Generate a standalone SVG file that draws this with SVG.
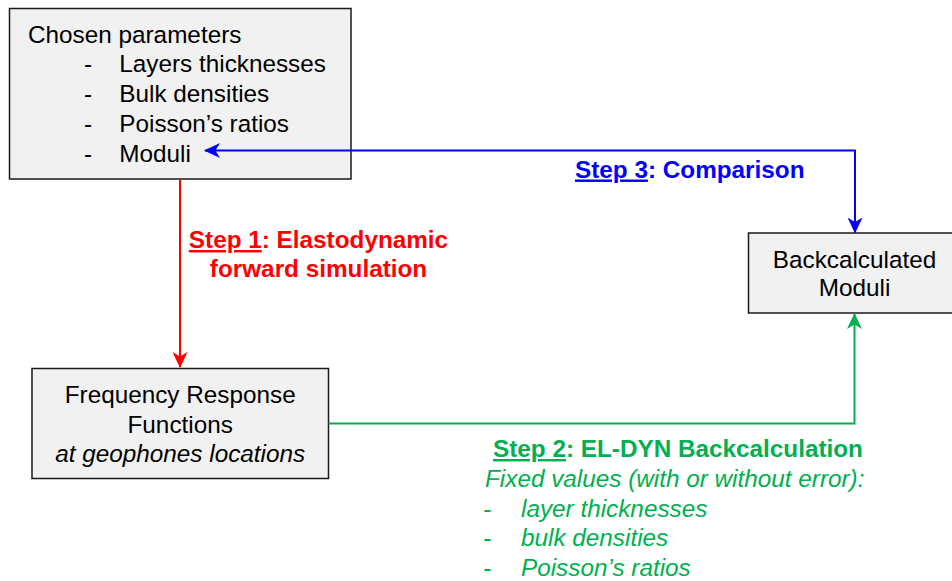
<svg xmlns="http://www.w3.org/2000/svg" width="952" height="581" viewBox="0 0 952 581">
<style>
  text { font-family: "Liberation Sans", Arial, sans-serif; font-size: 24.3px; }
  .box { fill: #f1f1f1; stroke: #1a1a1a; stroke-width: 1.5; }
  .dark { fill: #000000; }
  .b { font-weight: bold; }
  .i { font-style: italic; }
  .red { fill: #ff0000; }
  .blue { fill: #0000ff; }
  .green { fill: #00b050; }
  .u { text-decoration: underline; }
  .conn { fill: none; stroke-width: 2; }
</style>
<defs>
  <marker id="arRed" markerUnits="userSpaceOnUse" markerWidth="16" markerHeight="15" viewBox="0 0 16 15" refX="15" refY="7.5" orient="auto-start-reverse">
    <path d="M0,0 L16,7.5 L0,15 L4.5,7.5 Z" fill="#ff0000"/>
  </marker>
  <marker id="arBlue" markerUnits="userSpaceOnUse" markerWidth="16" markerHeight="15" viewBox="0 0 16 15" refX="15" refY="7.5" orient="auto-start-reverse">
    <path d="M0,0 L16,7.5 L0,15 L4.5,7.5 Z" fill="#0000ff"/>
  </marker>
  <marker id="arGreen" markerUnits="userSpaceOnUse" markerWidth="16" markerHeight="15" viewBox="0 0 16 15" refX="15" refY="7.5" orient="auto-start-reverse">
    <path d="M0,0 L16,7.5 L0,15 L4.5,7.5 Z" fill="#00b050"/>
  </marker>
</defs>

<g id="chosen-parameters">
  <rect class="box" x="9.5" y="8.5" width="341.5" height="170.5"/>
  <text class="dark" x="28" y="42.5">Chosen parameters</text>
  <text class="dark" x="84" y="72.3">-</text>
  <text class="dark" x="119.3" y="72.3">Layers thicknesses</text>
  <text class="dark" x="84" y="102">-</text>
  <text class="dark" x="119.3" y="102">Bulk densities</text>
  <text class="dark" x="84" y="131.8">-</text>
  <text class="dark" x="119.3" y="131.8">Poisson’s ratios</text>
  <text class="dark" x="84" y="161.6">-</text>
  <text class="dark" x="119.3" y="161.6">Moduli</text>
</g>

<g id="frf">
  <rect class="box" x="32" y="368.5" width="296.5" height="110"/>
  <text class="dark" x="180.2" y="403.3" text-anchor="middle">Frequency Response</text>
  <text class="dark" x="180.2" y="433.3" text-anchor="middle">Functions</text>
  <text class="dark i" x="180.2" y="461.5" text-anchor="middle">at geophones locations</text>
</g>

<g id="backcalculated">
  <rect class="box" x="748.5" y="233" width="206" height="80"/>
  <text class="dark" x="854.5" y="267.5" text-anchor="middle">Backcalculated</text>
  <text class="dark" x="854.5" y="296" text-anchor="middle">Moduli</text>
</g>

<g id="connectors">
  <path id="step1" class="conn" d="M180,179.5 V367" stroke="#ff0000" marker-end="url(#arRed)"/>
  <path id="step3" class="conn" d="M205,150.5 H855 V232.5" stroke="#0000ff" marker-start="url(#arBlue)" marker-end="url(#arBlue)"/>
  <path id="step2" class="conn" d="M328.5,423.5 H854.5 V314" stroke="#00b050" marker-end="url(#arGreen)"/>
</g>

<g id="labels">
  <text class="red b" x="318.5" y="248" text-anchor="middle"><tspan class="u">Step 1</tspan>: Elastodynamic</text>
  <text class="red b" x="318.5" y="277" text-anchor="middle">forward simulation</text>

  <text class="blue b" x="575" y="177.5"><tspan class="u">Step 3</tspan>: Comparison</text>

  <text class="green b" x="493" y="457"><tspan class="u">Step 2</tspan>: EL-DYN Backcalculation</text>
  <text class="green i" x="485" y="487">Fixed values (with or without error):</text>
  <text class="green i" x="483" y="517">-</text>
  <text class="green i" x="521" y="517">layer thicknesses</text>
  <text class="green i" x="483" y="546">-</text>
  <text class="green i" x="521" y="546">bulk densities</text>
  <text class="green i" x="483" y="575.5">-</text>
  <text class="green i" x="521" y="575.5">Poisson’s ratios</text>
</g>
</svg>
